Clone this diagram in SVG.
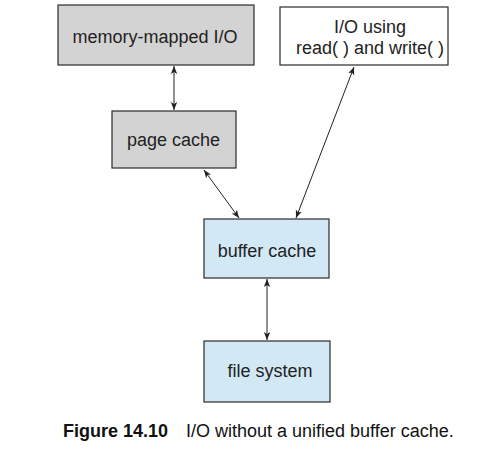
<svg xmlns="http://www.w3.org/2000/svg" width="494" height="470" viewBox="0 0 494 470">
<defs>
<style>
.box{stroke:#2b2b2b;stroke-width:1.2}
.gray{fill:#d3d3d3}
.white{fill:#ffffff}
.blue{fill:#d2e8f4}
.lbl{font-family:"Liberation Sans",Arial,sans-serif;font-size:18px;fill:#222;text-anchor:middle}
.con{stroke:#222;stroke-width:1;fill:none;marker-start:url(#ah);marker-end:url(#ah)}
.cap{font-family:"Liberation Sans",Arial,sans-serif;font-size:18px;fill:#111}
</style>
<marker id="ah" viewBox="0 0 10 10" refX="10" refY="5" markerWidth="8" markerHeight="8" orient="auto-start-reverse" markerUnits="userSpaceOnUse">
<path d="M0,1 L10,5 L0,9 L2.5,5 Z" fill="#222"/>
</marker>
</defs>
<rect width="494" height="470" fill="#fff"/>
<g id="memory-mapped">
<rect class="box gray" x="58" y="5" width="196" height="60"/>
<text class="lbl" x="155" y="43">memory-mapped I/O</text>
</g>
<g id="io-using">
<rect class="box white" x="280" y="7" width="168" height="58"/>
<text class="lbl" x="370" y="33">I/O using</text>
<text class="lbl" x="370" y="54">read( ) and write( )</text>
</g>
<g id="page-cache">
<rect class="box gray" x="112" y="111" width="124" height="57"/>
<text class="lbl" x="173.5" y="146">page cache</text>
</g>
<g id="buffer-cache">
<rect class="box blue" x="204" y="219" width="125" height="59"/>
<text class="lbl" x="267" y="257">buffer cache</text>
</g>
<g id="file-system">
<rect class="box blue" x="204" y="341" width="126" height="61"/>
<text class="lbl" x="270" y="377">file system</text>
</g>
<g id="connectors">
<line class="con" x1="174" y1="66" x2="174" y2="110"/>
<line class="con" x1="204" y1="170" x2="239" y2="218"/>
<line class="con" x1="354" y1="67" x2="296" y2="218"/>
<line class="con" x1="267" y1="279" x2="267" y2="340"/>
</g>
<text class="cap" x="63" y="437"><tspan font-weight="bold">Figure 14.10</tspan><tspan x="186">I/O without a unified buffer cache.</tspan></text>
</svg>
